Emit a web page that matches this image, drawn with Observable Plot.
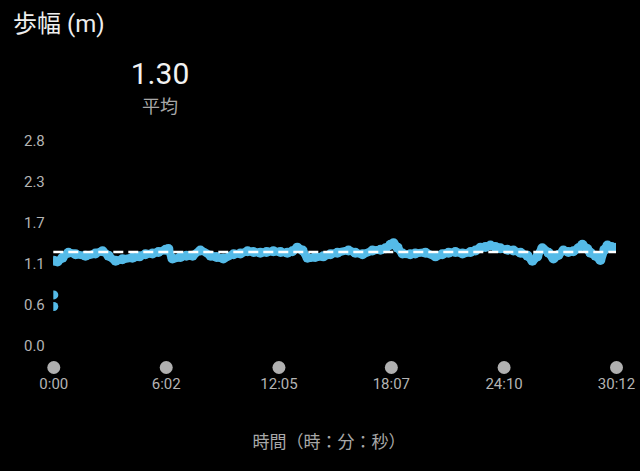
<!DOCTYPE html>
<html>
<head>
<meta charset="utf-8">
<script src="https://cdn.jsdelivr.net/npm/d3@7"></script>
<script src="https://cdn.jsdelivr.net/npm/@observablehq/plot@0.6"></script>
<style>
  html, body { margin: 0; padding: 0; background: #000; }
  body { width: 640px; height: 471px; overflow: hidden; font-family: Roboto, "Noto Sans CJK JP", sans-serif; }
  #header { position: relative; height: 120px; }
  #title { position: absolute; left: 13px; top: 12px; font-size: 24px; line-height: 1; color: #eeeeee; white-space: nowrap; }
  #avg { position: absolute; left: 160px; top: 59px; transform: translateX(-50%); font-size: 30px; line-height: 1; color: #f2f2f2; }
  #avglabel { position: absolute; left: 160px; top: 96px; transform: translateX(-50%); font-family: "Noto Sans CJK JP", sans-serif; font-size: 18px; line-height: 1; color: #a8a8a8; white-space: nowrap; }
  #chart { height: 290px; }
  #footer { position: relative; height: 61px; }
  #xlabel { position: absolute; left: 329px; top: 22px; transform: translateX(-50%); font-family: "Noto Sans CJK JP", sans-serif; font-size: 17px; line-height: 1; color: #a8a8a8; white-space: nowrap; }
</style>
</head>
<body>
<div id="header">
  <div id="title">歩幅 (m)</div>
  <div id="avg"></div>
  <div id="avglabel">平均</div>
</div>
<div id="chart"></div>
<div id="footer"><div id="xlabel">時間（時：分：秒）</div></div>
<script>
// Elapsed time (seconds) and stride length (m)
const times = [0,12,28,47,70,102,134,157,176,199,221,253,276,295,318,337,360,369,382,408,427,447,472,505,524,546,579,601,624,643,665,685,707,730,752,768,784,801,817,842,868,891,913,949,971,994,1026,1052,1068,1084,1094,1107,1123,1148,1164,1197,1229,1251,1271,1293,1316,1342,1358,1374,1390,1406,1422,1438,1461,1480,1503,1525,1541,1557,1573,1593,1609,1625,1641,1657,1673,1689,1702,1718,1728,1744,1760,1773,1783,1796,1812];
const strides = [1.18,1.17,1.22,1.29,1.27,1.25,1.28,1.31,1.25,1.18,1.20,1.22,1.24,1.27,1.28,1.30,1.33,1.34,1.21,1.23,1.25,1.25,1.32,1.25,1.23,1.21,1.27,1.28,1.31,1.30,1.29,1.30,1.31,1.30,1.29,1.31,1.36,1.32,1.22,1.23,1.24,1.27,1.29,1.32,1.29,1.27,1.32,1.33,1.35,1.40,1.42,1.36,1.28,1.27,1.28,1.29,1.24,1.27,1.29,1.30,1.28,1.30,1.32,1.36,1.37,1.39,1.37,1.35,1.33,1.32,1.29,1.25,1.18,1.24,1.35,1.29,1.21,1.26,1.32,1.30,1.31,1.35,1.40,1.34,1.29,1.25,1.19,1.33,1.39,1.37,1.36];
// isolated samples at the start
const strayTimes = [0, 0];
const strayValues = [0.71, 0.55];
const average = 1.30;
// axes
const yTickValues = [0, 0.564, 1.128, 1.692, 2.256, 2.82];
const yTickLabels = ["0.0", "0.6", "1.1", "1.7", "2.3", "2.8"];
const xTickValues = [0, 362, 725, 1087, 1450, 1812];
const xTickLabels = ["0:00", "6:02", "12:05", "18:07", "24:10", "30:12"];

const blue = "#55bbe8";
const data = times.map((t, i) => ({t, v: strides[i]}));
const stray = strayTimes.map((t, i) => ({t, v: strayValues[i]}));

document.getElementById("avg").textContent = average.toFixed(2);

const chart = Plot.plot({
  width: 640,
  height: 290,
  marginLeft: 53.3,
  marginRight: 24,
  marginTop: 21,
  marginBottom: 64,
  style: {background: "#000", color: "#b4b4b4", fontFamily: "Roboto, 'Noto Sans CJK JP', sans-serif", overflow: "visible"},
  x: {domain: [0, 1812], axis: null},
  y: {domain: [0, 2.82], axis: null},
  marks: [
    Plot.text(yTickValues, {y: d => d, text: (d, i) => yTickLabels[i], frameAnchor: "left", dx: -9, textAnchor: "end", fontSize: 15, fill: "#b4b4b4"}),
    Plot.line(data, {x: "t", y: "v", stroke: blue, strokeWidth: 8, strokeLinecap: "round", strokeLinejoin: "round", curve: "catmull-rom", clip: true}),
    Plot.dot(data, {x: "t", y: "v", r: 5, fill: blue, clip: true}),
    Plot.dot(stray, {x: "t", y: "v", r: 4.5, fill: blue, clip: true}),
    Plot.ruleY([average], {stroke: "#ffffff", strokeWidth: 2.5, strokeDasharray: "10,5"}),
    Plot.dot(xTickValues, {x: d => d, frameAnchor: "bottom", dy: 21, r: 6.5, fill: "#b0b0b0"}),
    Plot.text(xTickValues, {x: d => d, text: (d, i) => xTickLabels[i], frameAnchor: "bottom", dy: 42, fontSize: 15, fill: "#b4b4b4"})
  ]
});
document.getElementById("chart").appendChild(chart);
</script>
</body>
</html>
